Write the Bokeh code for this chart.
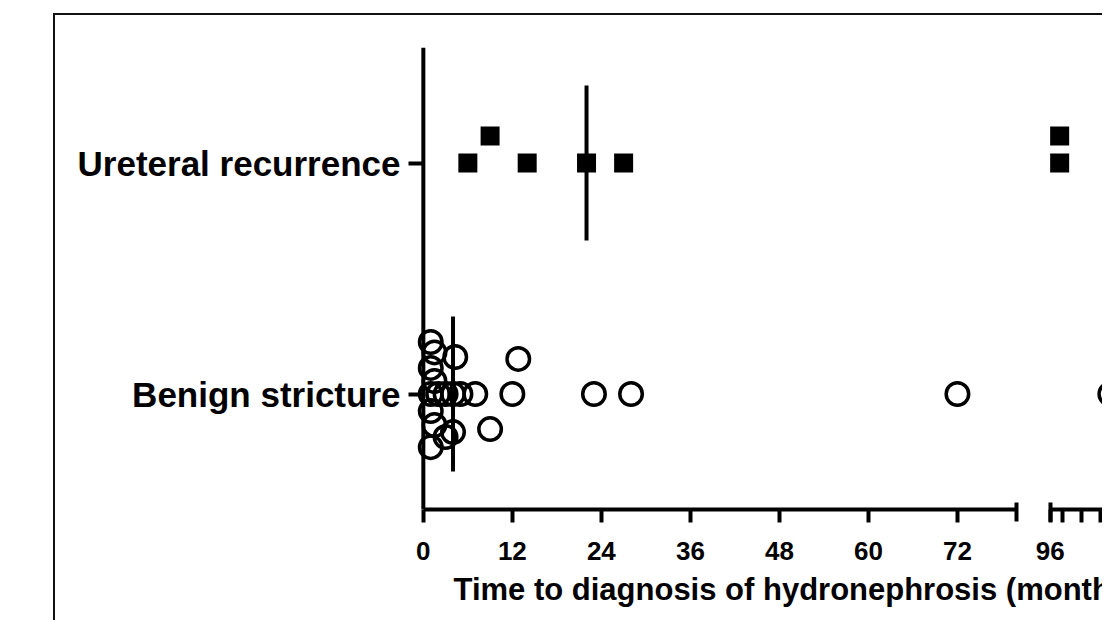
from bokeh.plotting import figure
from bokeh.models import Range1d, FixedTicker, Span, Title
from bokeh.embed import file_html
from bokeh.resources import INLINE
import numpy as np

# ---------------- data ----------------
categories = ["Benign stricture", "Ureteral recurrence"]
category_pos = [1, 2]

ureteral_months = [6, 9, 14, 22, 27, 99, 99]
ureteral_jitter = [0.0, 0.117, 0.0, 0.0, 0.0, 0.117, 0.0]

benign_months = [1.0, 1.5, 4.3, 12.8, 1.0, 1.5,
                 1.0, 2.0, 3.0, 4.0, 5.0, 7.0, 12.0, 23.0, 28.0, 72.0, 115.0,
                 1.0, 1.5, 4.0, 9.0, 3.0, 1.0]
benign_jitter = [0.225, 0.18, 0.16, 0.152, 0.113, 0.056,
                 0, 0, 0, 0, 0, 0, 0, 0, 0, 0, 0,
                 -0.074, -0.134, -0.165, -0.152, -0.186, -0.23]

x_ticks_seg1 = [0, 12, 24, 36, 48, 60, 72]
x_ticks_seg2 = [96, 100, 106, 112]
x_tick_labels_seg2 = ["96", "", "", ""]

x_title = "Time to diagnosis of hydronephrosis (months)"

# ---------------- broken-axis mapping ----------------
SEG1_END = 80.0      # first segment ends here (months)
SEG2_START = 96.0    # second segment starts here (months)
SEG2_POS = 84.5      # plotting position of the second segment start
SEG2_SCALE = 0.427   # compression of the second segment


def bx(m):
    return m if m <= SEG1_END else SEG2_POS + (m - SEG2_START) * SEG2_SCALE


CANVAS_W, CANVAS_H = 1049, 607
LEFT, TOP, FRAME_H = 353, 32, 462
FRAME_W = CANVAS_W - LEFT
X0 = -2.0
PX_PER_UNIT = 7.418
X1 = X0 + FRAME_W / PX_PER_UNIT

p = figure(width=CANVAS_W, height=CANVAS_H, output_backend="svg", toolbar_location=None,
           x_range=Range1d(X0, X1), y_range=Range1d(0.5, 2.5),
           min_border_left=LEFT, min_border_right=0,
           min_border_top=TOP, min_border_bottom=CANVAS_H - TOP - FRAME_H,
           margin=(13, 0, 0, 53),
           styles={"border-left": "2px solid #111", "border-top": "2px solid #111"})
p.grid.visible = False
p.outline_line_color = None
p.background_fill_color = "white"
p.border_fill_color = "white"

# y axis (category labels at fixed positions)
yax = p.yaxis[0]
yax.ticker = FixedTicker(ticks=category_pos)
yax.major_label_overrides = dict(zip(category_pos, categories))
yax.axis_line_color = None
yax.major_tick_in = 15
yax.major_tick_out = 0
yax.major_tick_line_width = 4
yax.major_tick_line_color = "black"
yax.minor_tick_line_color = None
yax.major_label_text_font = "Liberation Sans"
yax.major_label_text_font_style = "bold"
yax.major_label_text_font_size = "35px"
yax.major_label_text_color = "black"
yax.major_label_standoff = 8

p.add_layout(Span(location=0, dimension="height", line_color="black", line_width=4))

# x axis (broken)
xax = p.xaxis[0]
major = [bx(v) for v in x_ticks_seg1 + x_ticks_seg2]
labels = [str(v) for v in x_ticks_seg1] + x_tick_labels_seg2
xax.ticker = FixedTicker(ticks=major, minor_ticks=[SEG1_END, SEG2_POS])
xax.major_label_overrides = dict(zip(major, labels))
xax.bounds = (0, X1)
gap = (SEG2_POS - SEG1_END) * PX_PER_UNIT
xax.axis_line_dash = f"{round(SEG1_END * PX_PER_UNIT)} {round(gap)} 3000"
xax.axis_line_width = 4
xax.axis_line_color = "black"
xax.major_tick_in = 0
xax.major_tick_out = 13
xax.major_tick_line_width = 4
xax.major_tick_line_color = "black"
xax.minor_tick_in = 7
xax.minor_tick_out = 12
xax.minor_tick_line_width = 4
xax.minor_tick_line_color = "black"
xax.major_label_text_font = "Liberation Sans"
xax.major_label_text_font_style = "bold"
xax.major_label_text_font_size = "26px"
xax.major_label_text_color = "black"
xax.major_label_standoff = 19

# x-axis title, left-aligned like the reference (it runs past the crop)
p.add_layout(Title(text=x_title, align="left", offset=45, standoff=14,
                   text_font="Liberation Sans", text_font_style="bold",
                   text_font_size="31px", text_color="black"), "below")

# points
p.scatter([bx(v) for v in ureteral_months],
          [category_pos[1] + j for j in ureteral_jitter],
          marker="square", size=19, fill_color="black", line_color=None)
p.scatter([bx(v) for v in benign_months],
          [category_pos[0] + j for j in benign_jitter],
          marker="circle", size=22.5, fill_color=None, line_color="black", line_width=3.5)

# medians
meds = [np.median(benign_months), np.median(ureteral_months)]
half = 0.336
p.segment(x0=[bx(m) for m in meds], y0=[c - half for c in category_pos],
          x1=[bx(m) for m in meds], y1=[c + half for c in category_pos],
          line_color="black", line_width=4)

open("out.html", "w").write(file_html(p, INLINE))
